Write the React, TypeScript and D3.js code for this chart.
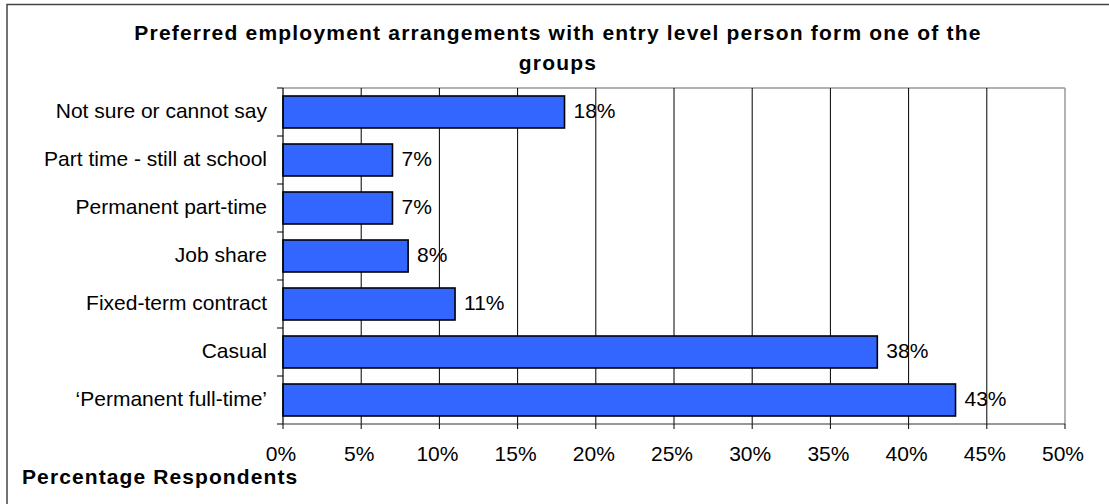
import React from "react";
import * as d3 from "d3";

const categories = [
  "Not sure or cannot say",
  "Part time - still at school",
  "Permanent part-time",
  "Job share",
  "Fixed-term contract",
  "Casual",
  "\u2018Permanent full-time\u2019",
];
const values = [18, 7, 7, 8, 11, 38, 43];
const xTicks = [0, 5, 10, 15, 20, 25, 30, 35, 40, 45, 50];
const titleLines = [
  "Preferred employment arrangements with entry level person form one of the",
  "groups",
];
const xAxisTitle = "Percentage Respondents";

const W = 1109;
const H = 504;
const FONT = "'Liberation Sans', Arial, sans-serif";

export default function App() {
  const left = 283;
  const right = 1065;
  const top = 88;
  const bottom = 424;
  const x = d3.scaleLinear().domain([0, 50]).range([left, right]);
  const y = d3
    .scaleBand<string>()
    .domain(categories)
    .range([top, bottom])
    .paddingInner(1 / 3)
    .paddingOuter(1 / 6);
  const bandStep = (bottom - top) / categories.length;
  const boundaries = d3.range(categories.length + 1).map((i) => top + i * bandStep);

  return (
    <svg
      width={W}
      height={H}
      style={{ position: "absolute", left: 0, top: 0, background: "#fff" }}
      fontFamily={FONT}
    >
      <rect x={0} y={0} width={W} height={H} fill="#fff" />
      <rect x={7} y={4.5} width={W + 20} height={H + 20} fill="none" stroke="#444" strokeWidth={1.5} />
      {titleLines.map((t, i) => (
        <text
          key={i}
          x={558}
          y={40 + i * 30}
          textAnchor="middle"
          fontSize={21}
          fontWeight="bold"
          letterSpacing={1.2}
          fill="#000"
        >
          {t}
        </text>
      ))}
      {/* plot border top/right */}
      <line x1={left} x2={right} y1={top} y2={top} stroke="#999" strokeWidth={1.5} />
      <line x1={right} x2={right} y1={top} y2={bottom} stroke="#999" strokeWidth={1.5} />
      {/* gridlines */}
      {xTicks.slice(1, -1).map((t) => (
        <line key={t} x1={x(t)} x2={x(t)} y1={top} y2={bottom} stroke="#000" strokeWidth={1} />
      ))}
      {/* bars */}
      {categories.map((c, i) => (
        <rect
          key={c}
          x={x(0)}
          y={y(c)!}
          width={x(values[i]) - x(0)}
          height={y.bandwidth()}
          fill="#3366FF"
          stroke="#000"
          strokeWidth={1.6}
        />
      ))}
      {/* axes */}
      <line x1={left} x2={left} y1={top} y2={bottom} stroke="#000" strokeWidth={1.2} />
      <line x1={left} x2={right} y1={bottom} y2={bottom} stroke="#333" strokeWidth={1.2} />
      {boundaries.map((b, i) => (
        <line key={i} x1={left - 6} x2={left} y1={b} y2={b} stroke="#000" strokeWidth={1} />
      ))}
      {xTicks.map((t) => (
        <line key={t} x1={x(t)} x2={x(t)} y1={bottom} y2={bottom + 5} stroke="#000" strokeWidth={1} />
      ))}
      {xTicks.map((t) => (
        <text key={t} x={x(t) - 2} y={461} textAnchor="middle" fontSize={21} fill="#000">
          {t + "%"}
        </text>
      ))}
      {/* category labels */}
      {categories.map((c) => (
        <text
          key={c}
          x={267}
          y={y(c)! + y.bandwidth() / 2 + 5.5}
          textAnchor="end"
          fontSize={21}
          fill="#000"
        >
          {c}
        </text>
      ))}
      {/* value labels */}
      {categories.map((c, i) => (
        <text
          key={c}
          x={x(values[i]) + 9}
          y={y(c)! + y.bandwidth() / 2 + 6}
          fontSize={21}
          fill="#000"
        >
          {values[i] + "%"}
        </text>
      ))}
      <text x={22} y={484} fontSize={21} fontWeight="bold" letterSpacing={1.1} fill="#000">
        {xAxisTitle}
      </text>
    </svg>
  );
}
